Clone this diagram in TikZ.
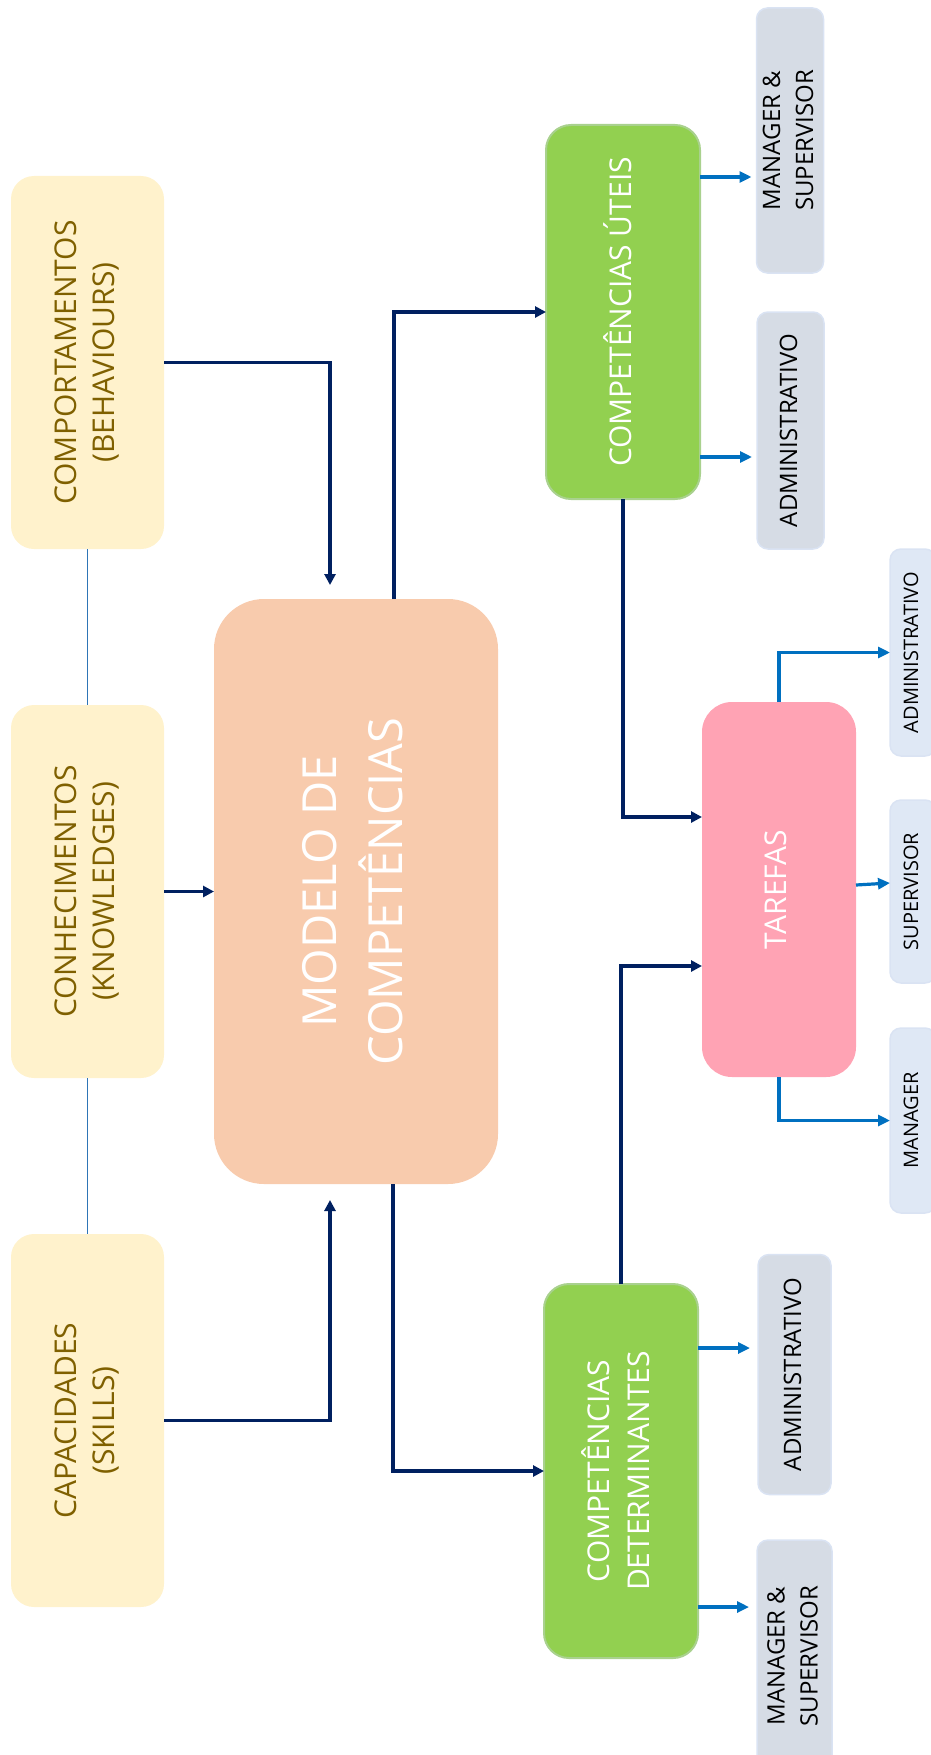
\documentclass[tikz,border=0pt]{standalone}
\usepackage{fontspec}
\setmainfont{Open Sans}
\usetikzlibrary{arrows.meta,calc}

\definecolor{navy}{HTML}{002060}
\definecolor{azure}{HTML}{0070C0}
\definecolor{linkblue}{HTML}{2E75B6}
\definecolor{cream}{HTML}{FFF2CC}
\definecolor{olive}{HTML}{7F6000}
\definecolor{peach}{HTML}{F8CBAD}
\definecolor{leaf}{HTML}{92D050}
\definecolor{leafedge}{HTML}{A9D18E}
\definecolor{rose}{HTML}{FFA3B4}
\definecolor{slate}{HTML}{D6DCE5}
\definecolor{slateedge}{HTML}{DAE3F3}
\definecolor{mist}{HTML}{DFE8F5}

% vertical (bottom-to-top) multi-line label
\newcommand{\vlabel}[1]{\rotatebox{90}{\begin{tabular}{@{}c@{}}#1\end{tabular}}}

\tikzset{
  boxbase/.style={rectangle, inner sep=0pt, outer sep=0pt},
  yellowbox/.style={boxbase, fill=cream, rounded corners=23pt,
    minimum width=153pt, minimum height=373pt, text=olive,
    font=\fontsize{30}{38}\selectfont},
  peachbox/.style={boxbase, fill=peach, rounded corners=50pt,
    minimum width=284pt, minimum height=585pt, text=white,
    font=\fontsize{47}{66}\selectfont},
  greenbox/.style={boxbase, fill=leaf, draw=leafedge, line width=2pt,
    rounded corners=25pt, minimum width=154pt, minimum height=374pt,
    text=white, font=\fontsize{30}{40}\selectfont},
  pinkbox/.style={boxbase, fill=rose, rounded corners=30pt,
    minimum width=154pt, minimum height=375pt, text=white,
    font=\fontsize{30}{38}\selectfont},
  greybox/.style={boxbase, fill=slate, draw=slateedge, line width=1.5pt,
    rounded corners=11pt, text=black, font=\fontsize{24}{33}\selectfont},
  sidebox/.style={boxbase, fill=mist, draw=slateedge, line width=1.5pt,
    rounded corners=11pt, minimum width=46pt, text=black,
    font=\fontsize{20}{26}\selectfont},
  navyarrow/.style={draw=navy, line width=3.5pt,
    -{Triangle[length=11pt,width=11pt]}},
  bluearrow/.style={draw=azure, line width=3.2pt,
    -{Triangle[length=12pt,width=11pt]}},
  linkline/.style={draw=linkblue, line width=1.5pt},
}

\begin{document}
\begin{tikzpicture}[x=1pt, y=-1pt]
  \useasboundingbox (0,0) rectangle (931,1755);

  % source boxes
  \node[yellowbox] (comp) at (87.5,362.5) {\vlabel{COMPORTAMENTOS\\(BEHAVIOURS)}};
  \node[yellowbox] (conh) at (87.5,891.5) {\vlabel{CONHECIMENTOS\\(KNOWLEDGES)}};
  \node[yellowbox] (capa) at (87.5,1420.5) {\vlabel{CAPACIDADES\\(SKILLS)}};

  % central model
  \node[peachbox] (modelo) at (356,891.5) {\vlabel{MODELO DE\\COMPETÊNCIAS}};

  % competence groups and tasks
  \node[greenbox] (uteis) at (623,312) {\vlabel{COMPETÊNCIAS ÚTEIS}};
  \node[greenbox] (determ) at (621,1471) {\vlabel{COMPETÊNCIAS\\DETERMINANTES}};
  \node[pinkbox] (tarefas) at (779,889.5) {\vlabel{TAREFAS}};

  % roles
  \node[greybox, minimum width=67pt, minimum height=265pt] (ms1) at (790,140.5) {\vlabel{MANAGER \&\\SUPERVISOR}};
  \node[greybox, minimum width=67pt, minimum height=237pt] (adm1) at (790.5,430.5) {\vlabel{ADMINISTRATIVO}};
  \node[greybox, minimum width=73pt, minimum height=240pt] (adm2) at (794.5,1374.5) {\vlabel{ADMINISTRATIVO}};
  \node[greybox, minimum width=75pt, minimum height=232pt] (ms2) at (794.5,1656) {\vlabel{MANAGER \&\\SUPERVISOR}};
  \node[sidebox, minimum height=207pt] (admR) at (913,652.5) {\vlabel{ADMINISTRATIVO}};
  \node[sidebox, minimum height=183pt] (supR) at (913,891.5) {\vlabel{SUPERVISOR}};
  \node[sidebox, minimum height=185pt] (manR) at (913,1120.5) {\vlabel{MANAGER}};

  % links between the source boxes
  \draw[linkline] (comp.south) -- (conh.north);
  \draw[linkline] (conh.south) -- (capa.north);

  % inputs to the model
  \draw[navyarrow, shorten >=14pt] (comp.east) -| ([xshift=-26pt]modelo.north);
  \draw[navyarrow] (conh.east) -- (modelo.west);
  \draw[navyarrow, shorten >=16pt] (capa.east) -| ([xshift=-26pt]modelo.south);

  % outputs of the model
  \draw[navyarrow] ([xshift=38pt]modelo.north) |- (uteis.west);
  \draw[navyarrow] ([xshift=37pt]modelo.south) |- (determ.west);
  \draw[navyarrow] (uteis.south) |- ([yshift=72.5pt]tarefas.west);
  \draw[navyarrow] (determ.north) |- ([yshift=-76.5pt]tarefas.west);

  % role assignments
  \draw[bluearrow, shorten >=5pt] ([yshift=135pt]uteis.east) coordinate (u1) -- (u1 -| ms1.west);
  \draw[bluearrow, shorten >=5pt] ([yshift=-145pt]uteis.east) coordinate (u2) -- (u2 -| adm1.west);
  \draw[bluearrow, shorten >=8pt] ([yshift=123pt]determ.east) coordinate (d1) -- (d1 -| adm2.west);
  \draw[bluearrow, shorten >=8pt] ([yshift=-136pt]determ.east) coordinate (d2) -- (d2 -| ms2.west);
  \draw[bluearrow] (tarefas.north) |- (admR.west);
  \draw[bluearrow] ([yshift=4.5pt]tarefas.east) -- ([yshift=8.5pt]supR.west);
  \draw[bluearrow] (tarefas.south) |- (manR.west);
\end{tikzpicture}
\end{document}
